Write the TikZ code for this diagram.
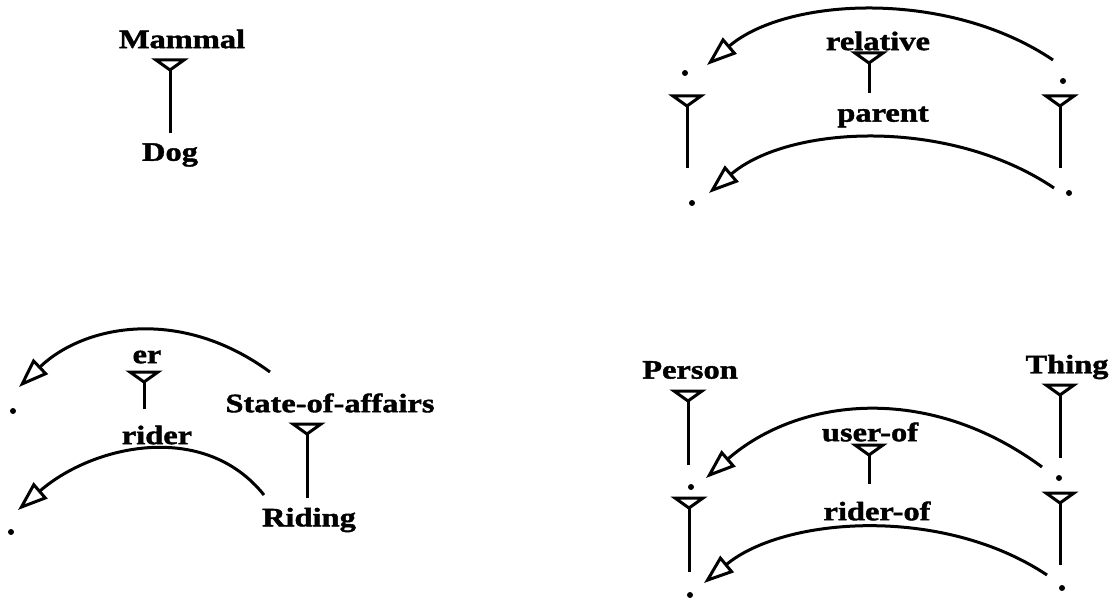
\documentclass[tikz,border=0pt]{standalone}
\usepackage{fontspec}
\setmainfont{Liberation Serif}[BoldFeatures={FakeStretch=1.22,FakeBold=1.5}]
\usetikzlibrary{arrows.meta,decorations.markings}
\begin{document}
\begin{tikzpicture}[x=0.5pt,y=-0.5pt,
  lbl/.style={font=\fontsize{13.3}{16}\selectfont\bfseries, inner sep=0pt},
  dot/.style={circle, fill=black, inner sep=0pt, minimum size=3pt},
  isa/.style={line width=1.5pt, postaction={decorate, decoration={markings,
      mark=at position 1 with {\draw[line width=1.5pt, line join=miter] (0pt,0pt) -- (5pt,7pt) -- (5pt,-7pt) -- cycle;}}}},
  rel/.style={line width=1.5pt, -{Triangle[open, length=15pt, width=10.5pt]}}]
\useasboundingbox (0,0) rectangle (1112,599);

% ---------- panel 1 ----------
\node[lbl] (mammal) at (182,39) {Mammal};
\node[lbl] (dog) at (170,155) {Dog};
\draw[isa] ([shift={(0,-22)}]dog.center) -- ([shift={(-12,31)}]mammal.center);

% ---------- panel 2 ----------
\node[lbl] (relative) at (878,41) {relative};
\node[lbl] (parent) at (883,117) {parent};
\node[dot] (ul) at (685,73) {};
\node[dot] (ur) at (1063,81) {};
\node[dot] (ll) at (692,203) {};
\node[dot] (lr) at (1069,193) {};
\draw[isa] ([shift={(-14,-24)}]parent.center) -- ([shift={(-9,22)}]relative.center);
\draw[isa] ([shift={(-5,-35)}]ll.center) -- ([shift={(2,33)}]ul.center);
\draw[isa] ([shift={(-9,-25)}]lr.center) -- ([shift={(-3,25)}]ur.center);
\draw[rel] ([shift={(-10,-21)}]ur.center) .. controls +(-105,-71) and +(80,-68) .. ([shift={(22,-8)}]ul.center);
\draw[rel] ([shift={(-15,-5)}]lr.center) .. controls +(-105,-71) and +(80,-68) .. ([shift={(17,-10)}]ll.center);

% ---------- panel 3 ----------
\node[lbl] (er) at (147,357) {er};
\node[lbl] (rider) at (157,435) {rider};
\node[lbl] (soa) at (330,403) {State-of-affairs};
\node[lbl] (riding) at (309,520) {Riding};
\node[dot] (d1) at (13,411) {};
\node[dot] (d2) at (11,532) {};
\draw[isa] ([shift={(-13,-26)}]rider.center) -- ([shift={(-3,25)}]er.center);
\draw[isa] ([shift={(-2,-22)}]riding.center) -- ([shift={(-23,31)}]soa.center);
\draw[rel] ([shift={(-60,-31)}]soa.center) .. controls +(-90,-66) and +(65,-62) .. ([shift={(6,-24)}]d1.center);
\draw[rel] ([shift={(-45,-25)}]riding.center) .. controls +(-60,-75) and +(75,-65) .. ([shift={(7,-22)}]d2.center);

% ---------- panel 4 ----------
\node[lbl] (person) at (690,370) {Person};
\node[lbl] (thing) at (1067,367) {Thing};
\node[lbl] (userof) at (870,432) {user-of};
\node[lbl] (riderof) at (877,511) {rider-of};
\node[dot] (a1) at (691,487) {};
\node[dot] (b1) at (1059,478) {};
\node[dot] (a2) at (690,595) {};
\node[dot] (b2) at (1062,588) {};
\draw[isa] ([shift={(-3,-22)}]a1.center) -- ([shift={(-2,31)}]person.center);
\draw[isa] ([shift={(1,-20)}]b1.center) -- ([shift={(-7,28)}]thing.center);
\draw[isa] ([shift={(-8,-27)}]riderof.center) -- ([shift={(-1,23)}]userof.center);
\draw[isa] ([shift={(-1,-23)}]a2.center) -- ([shift={(-2,21)}]a1.center);
\draw[isa] ([shift={(-2,-23)}]b2.center) -- ([shift={(1,25)}]b1.center);
\draw[rel] ([shift={(-17,-11)}]b1.center) .. controls +(-115,-85) and +(92,-80) .. ([shift={(15,-9)}]a1.center);
\draw[rel] ([shift={(-15,-13)}]b2.center) .. controls +(-105,-70) and +(80,-66) .. ([shift={(14,-12)}]a2.center);
\end{tikzpicture}
\end{document}
